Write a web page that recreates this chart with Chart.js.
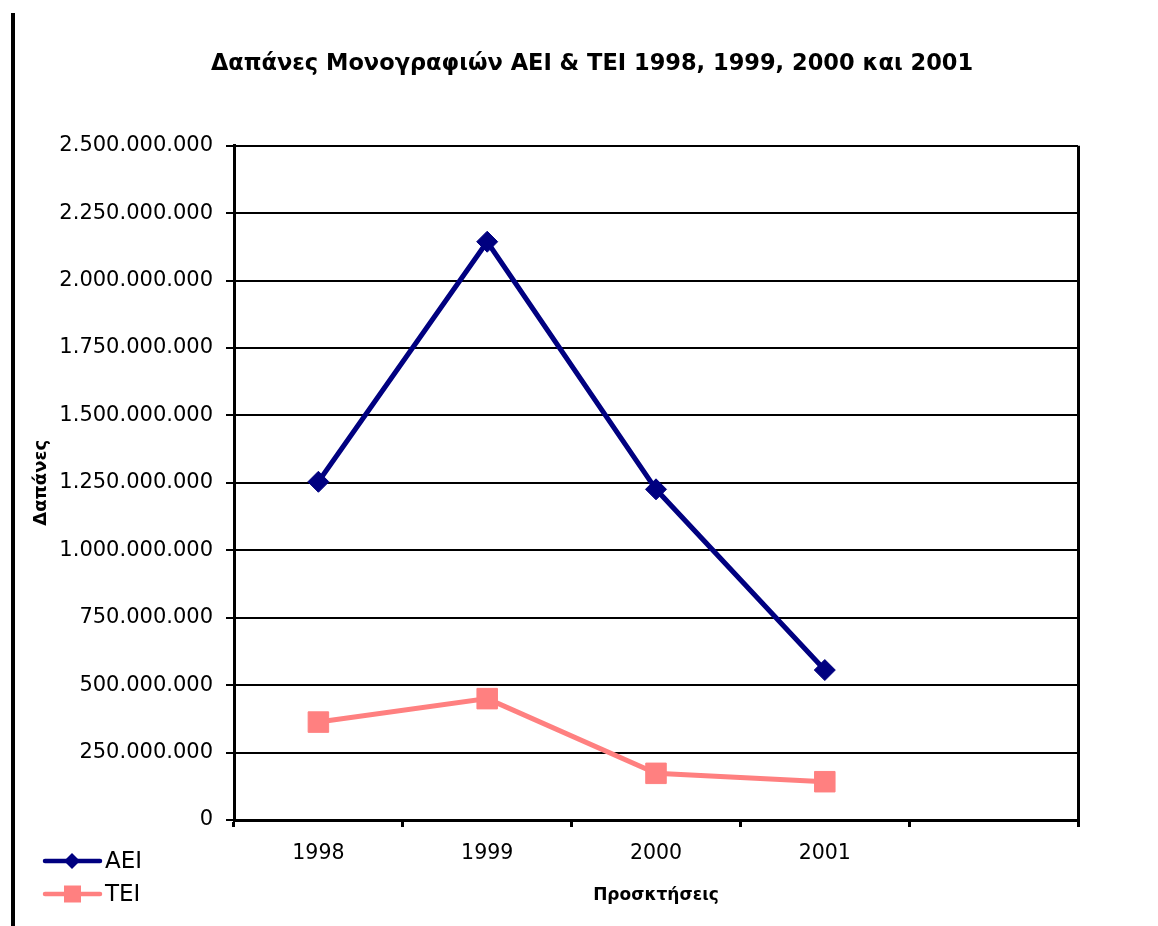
<!DOCTYPE html>
<html>
<head>
<meta charset="utf-8">
<script src="https://cdn.jsdelivr.net/npm/chart.js@4.4.1/dist/chart.umd.min.js"></script>
<style>
  html, body { margin: 0; padding: 0; background: #fff; }
  #wrap { position: relative; width: 1158px; height: 926px; }
  #edge { position: absolute; left: 11px; top: 13px; width: 4px; height: 913px; background: #000; }
</style>
</head>
<body>
<div id="wrap">
  <canvas id="chart" width="1158" height="926"></canvas>
  <div id="edge"></div>
</div>
<script>
// ---- DATA ----
const years = ['1998', '1999', '2000', '2001', ''];
const aei = [1254000000, 2144000000, 1226000000, 556000000];
const tei = [363000000, 450000000, 173000000, 142000000];
const yTicks = [0, 250000000, 500000000, 750000000, 1000000000, 1250000000,
  1500000000, 1750000000, 2000000000, 2250000000, 2500000000];
const chartTitle = 'Δαπάνες Μονογραφιών ΑΕΙ & ΤΕΙ 1998, 1999, 2000 και 2001';

const NAVY = '#000080';
const PINK = '#FF8080';
const FONT = 'DejaVu Sans';

const fmt = v => String(v).replace(/\B(?=(\d{3})+(?!\d))/g, '.');

// ---- TITLE (centred a bit right of the canvas middle, like the original) ----
const topTitle = {
  id: 'topTitle',
  afterDraw(chart) {
    const ctx = chart.ctx;
    ctx.save();
    ctx.fillStyle = '#000';
    ctx.font = 'bold 22.5px "' + FONT + '"';
    ctx.textAlign = 'center';
    ctx.textBaseline = 'middle';
    ctx.fillText(chartTitle, 592, 64);
    ctx.restore();
  }
};

// ---- LEGEND (bottom left, drawn by hand) ----
const sideLegend = {
  id: 'sideLegend',
  afterDraw(chart) {
    const ctx = chart.ctx;
    const items = [
      { label: 'ΑΕΙ', color: NAVY, y: 861, shape: 'diamond' },
      { label: 'ΤΕΙ', color: PINK, y: 894, shape: 'square' }
    ];
    ctx.save();
    items.forEach(it => {
      ctx.strokeStyle = it.color;
      ctx.fillStyle = it.color;
      ctx.lineWidth = 4.5;
      ctx.lineCap = 'round';
      ctx.beginPath();
      ctx.moveTo(45, it.y);
      ctx.lineTo(100, it.y);
      ctx.stroke();
      ctx.beginPath();
      if (it.shape === 'diamond') {
        ctx.moveTo(72 - 8, it.y);
        ctx.lineTo(72, it.y - 8);
        ctx.lineTo(72 + 8, it.y);
        ctx.lineTo(72, it.y + 8);
        ctx.closePath();
      } else {
        ctx.rect(64, it.y - 8.5, 17, 17);
      }
      ctx.fill();
      ctx.fillStyle = '#000';
      ctx.font = '23px "' + FONT + '"';
      ctx.textBaseline = 'middle';
      ctx.textAlign = 'left';
      ctx.fillText(it.label, 105, it.y + 1);
    });
    ctx.restore();
  }
};

new Chart(document.getElementById('chart'), {
  type: 'line',
  data: {
    labels: years,
    datasets: [
      {
        label: 'ΑΕΙ',
        data: aei,
        borderColor: NAVY,
        backgroundColor: NAVY,
        borderWidth: 5,
        pointStyle: 'rectRot',
        pointRadius: 10.5,
        pointBorderWidth: 1,
        tension: 0
      },
      {
        label: 'ΤΕΙ',
        data: tei,
        borderColor: PINK,
        backgroundColor: PINK,
        borderWidth: 5,
        pointStyle: 'rect',
        pointRadius: 14.5,
        pointBorderWidth: 1,
        tension: 0
      }
    ]
  },
  options: {
    responsive: false,
    animation: false,
    layout: { padding: { left: 0, right: 80, top: 145.7, bottom: 0 } },
    plugins: {
      legend: { display: false },
      tooltip: { enabled: false },
      title: { display: false }
    },
    scales: {
      x: {
        offset: true,
        grid: {
          offset: true,
          drawOnChartArea: true,
          color: c => c.type === 'scale' ? '#000' : 'rgba(0,0,0,0)',
          tickColor: '#000',
          lineWidth: 3,
          tickLength: 7
        },
        border: { display: true, color: '#000', width: 3 },
        ticks: {
          autoSkip: false,
          maxRotation: 0,
          color: '#000',
          padding: 14,
          font: { family: FONT, size: 20.5 }
        },
        title: {
          display: true,
          text: 'Προσκτήσεις',
          color: '#000',
          font: { family: FONT, size: 17, weight: 'bold' },
          padding: { top: 0, bottom: 20 }
        },
        afterFit: s => { s.height = 106; }
      },
      y: {
        min: 0,
        max: 2500000000,
        afterBuildTicks: s => { s.ticks = yTicks.map(v => ({ value: v })); },
        grid: { color: '#000', lineWidth: 2, tickLength: 8 },
        border: { display: true, color: '#000', width: 3 },
        ticks: {
          color: '#000',
          padding: 13,
          font: { family: FONT, size: 21 },
          callback: v => fmt(v)
        },
        title: {
          display: true,
          text: 'Δαπάνες',
          color: '#000',
          font: { family: FONT, size: 18, weight: 'bold' },
          padding: { top: 31, bottom: 0 }
        },
        afterFit: s => { s.width = 234; }
      }
    }
  },
  plugins: [topTitle, sideLegend]
});
</script>
</body>
</html>
